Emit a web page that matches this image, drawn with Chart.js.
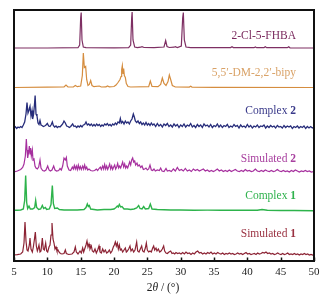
<!DOCTYPE html>
<html><head><meta charset="utf-8">
<script src="https://cdn.jsdelivr.net/npm/chart.js@4/dist/chart.umd.min.js"></script>
<style>html,body{margin:0;padding:0;background:#fff;}canvas{display:block;}</style>
</head><body>
<canvas id="c" width="332" height="302"></canvas>
<script>
// x-axis tick labels (2θ, degrees)
const tickValues = [5,10,15,20,25,30,35,40,45,50];
// series names (text, bold suffix)
const seriesNames = [["2-Cl-5-FHBA",""],["5,5\u2032-DM-2,2\u2032-bipy",""],["Complex ","2"],["Simulated ","2"],["Complex ","1"],["Simulated ","1"]];
// vertical stacking offsets for each pattern
const offsets = [213, 173.5, 133, 89, 50.5, 6];

// [2θ, relative intensity] pairs
const fhba = [[5,0],[10,0],[14.6,0.3],[14.85,3],[15.0,30],[15.08,35.5],[15.2,8],[15.4,1],[15.8,0.3],[20,0.2],[22.2,0.3],[22.5,3],[22.65,30],[22.72,36],[22.85,8],[23.1,1],[23.5,0.3],[24.0,0.8],[24.2,1.3],[24.5,0.5],[26,0.4],[27.5,1],[27.75,7.5],[27.95,1.5],[28.3,0.5],[29.0,0.8],[29.2,1.3],[29.5,0.5],[30.1,2],[30.3,30],[30.4,35.5],[30.55,8],[30.8,1],[31.5,0.3],[35,0.3],[37.5,0.4],[37.7,1.3],[37.9,0.4],[41,0.3],[41.2,1],[41.4,0.3],[42.5,0.4],[42.7,1.3],[42.9,0.3],[46.0,0.3],[46.2,1.2],[46.4,0.2],[50,0]];

const bipy = [[5,0],[10,0.3],[12.5,0.5],[12.8,2.5],[13.1,0.5],[13.9,0.5],[14.2,2],[14.5,0.8],[15.0,1.5],[15.25,12],[15.4,34.5],[15.55,20],[15.75,21],[15.9,8],[16.1,2],[16.3,3],[16.5,7],[16.7,2],[17.0,0.8],[17.8,1.5],[18.1,0.5],[18.8,0.6],[19.0,1.5],[19.3,0.6],[20.0,1],[20.3,2.5],[20.6,5],[20.9,8],[21.05,11],[21.15,18],[21.25,22],[21.35,14],[21.45,19],[21.55,12],[21.7,10],[21.85,4],[22.1,1],[22.5,0.5],[25.2,0.8],[25.45,6.5],[25.7,1],[26.6,0.8],[27.0,3],[27.25,9.5],[27.5,4],[27.8,2],[28.1,6],[28.3,12.5],[28.5,8],[28.75,2],[29.2,0.5],[31.3,0.4],[31.5,1.2],[31.7,0.4],[35,0.2],[50,0]];

const complex2 = [[5.0,0],[5.2,1.2],[5.4,-0.5],[5.6,1],[5.8,0.2],[6.0,1.5],[6.2,0.5],[6.4,3],[6.6,6],[6.8,14],[6.95,25.5],[7.1,15],[7.25,18],[7.4,21.5],[7.55,12],[7.7,17.5],[7.8,9],[7.95,14],[8.1,26],[8.17,32.5],[8.3,14],[8.45,12],[8.6,5],[8.75,3.5],[8.9,7.5],[9.05,3],[9.2,2.5],[9.4,1.5],[9.6,2],[9.8,3],[10.0,4.5],[10.2,2],[10.4,1.5],[10.6,3.5],[10.75,6],[10.9,2.5],[11.1,1],[11.3,2],[11.5,0.5],[11.7,1.5],[11.9,1],[12.1,2.5],[12.3,4],[12.5,7],[12.7,5],[12.9,2],[13.1,1.5],[13.3,0.5],[13.5,1.5],[13.8,4],[14.0,1.5],[14.2,2],[14.4,0.5],[14.6,2],[14.8,1],[15.0,2.5],[15.2,1],[15.4,3],[15.6,3.5],[15.8,6],[16.0,3],[16.2,4],[16.4,2.5],[16.6,4],[16.8,2],[17.0,3.5],[17.2,2],[17.4,4],[17.6,2.5],[17.8,3.5],[18.0,1.5],[18.2,3],[18.4,2],[18.6,4],[18.8,3],[19.0,4.5],[19.2,2.5],[19.4,3.5],[19.6,2],[19.8,4],[20.0,3],[20.2,5],[20.4,3.5],[20.6,6],[20.8,5],[20.95,9.5],[21.1,5],[21.3,6.5],[21.5,4],[21.7,7],[21.9,5],[22.1,6],[22.3,4],[22.5,7],[22.7,9],[22.9,14],[23.05,11],[23.2,7],[23.4,5.5],[23.6,7],[23.8,4.5],[24.0,6],[24.2,3.5],[24.4,5],[24.6,3],[24.8,5.5],[25.0,3],[25.2,4.5],[25.4,2.5],[25.6,5],[25.8,3],[26.0,4],[26.25,1.5],[26.5,4.5],[26.75,2],[27.0,3.5],[27.25,1],[27.5,4],[27.75,2.5],[28.0,4.5],[28.25,1.5],[28.5,3],[28.75,1],[29.0,4],[29.25,2],[29.5,3.5],[29.75,0.5],[30.0,3],[30.25,1.5],[30.5,4],[30.75,1],[31.0,3],[31.25,2],[31.5,4.5],[31.75,1],[32.0,2.5],[32.25,0.5],[32.5,3.5],[32.75,1.5],[33.0,3],[33.25,0.5],[33.5,4],[33.75,2],[34.0,3],[34.25,1],[34.5,3.5],[34.75,0.5],[35.0,2.5],[35.25,1.5],[35.5,4],[35.75,1],[36.0,3],[36.25,0.5],[36.5,2.5],[36.75,1.5],[37.0,3.5],[37.25,0.5],[37.5,2],[37.75,1],[38.0,3.5],[38.25,1.5],[38.5,2.5],[38.75,0],[39.0,3],[39.25,1],[39.5,2],[39.75,0.5],[40.0,3.5],[40.25,1],[40.5,2.5],[40.75,0],[41.0,2],[41.25,1],[41.5,3],[41.75,0.5],[42.0,2],[42.25,1.5],[42.5,3],[42.75,0],[43.0,2],[43.25,0.5],[43.5,2.5],[43.75,1],[44.0,2],[44.25,0],[44.5,2.5],[44.75,1],[45.0,1.5],[45.25,0],[45.5,2.5],[45.75,0.5],[46.0,2],[46.25,1],[46.5,2],[46.75,-0.5],[47.0,1.5],[47.25,0.5],[47.5,2],[47.75,0],[48.0,1.5],[48.25,0.5],[48.5,2],[48.75,-0.5],[49.0,1.5],[49.25,0],[49.5,1.5],[49.75,0],[50.0,1]];

const sim2 = [[5.0,0],[5.5,1],[6.0,2.5],[6.3,4.5],[6.5,8],[6.7,16],[6.85,33],[6.95,22],[7.05,14],[7.2,20],[7.3,26],[7.4,18],[7.5,24],[7.6,16],[7.75,22],[7.85,12],[8.0,13],[8.15,6],[8.3,4],[8.5,3],[8.7,5],[8.9,12],[9.05,4],[9.3,1.5],[9.55,1],[9.8,2],[10.05,6],[10.25,2],[10.45,1],[10.7,2],[10.95,6],[11.15,2],[11.4,1],[11.7,1.5],[11.9,3.5],[12.1,2],[12.3,6],[12.5,14],[12.7,12],[12.85,14.5],[13.0,6],[13.25,2],[13.5,1.5],[13.75,5],[13.9,3],[14.05,6.5],[14.2,3],[14.35,6],[14.5,2.5],[14.65,7],[14.8,3],[14.95,5.5],[15.1,2.5],[15.3,6],[15.45,3],[15.6,7],[15.75,3],[15.9,5],[16.05,2],[16.25,3],[16.5,1.5],[16.8,1],[17.1,1.5],[17.35,3],[17.55,1.5],[17.75,3.5],[17.95,5],[18.1,2.5],[18.3,6],[18.45,3],[18.6,7.5],[18.75,3],[18.9,6],[19.05,2.5],[19.2,5],[19.35,8],[19.5,3],[19.65,6],[19.8,2.5],[19.95,5],[20.1,7],[20.25,3],[20.4,5],[20.55,8.5],[20.7,4],[20.85,6],[21.0,4],[21.15,7],[21.3,10],[21.45,5],[21.6,8],[21.75,4],[21.9,6],[22.05,4],[22.2,7],[22.35,10],[22.5,7],[22.65,12],[22.8,14],[22.95,10],[23.1,11],[23.25,7],[23.45,9],[23.6,6],[23.8,7],[24.0,4.5],[24.2,6],[24.4,2.5],[24.6,3],[24.8,4],[25.0,2],[25.2,3],[25.4,7],[25.6,2],[25.8,1.5],[26.0,3],[26.2,1],[26.5,2],[26.8,1.5],[27.0,4],[27.2,1],[27.5,0.5],[27.8,3.5],[28.0,1],[28.3,1.5],[28.6,0.5],[28.9,3],[29.2,1],[29.5,4.5],[29.8,1.5],[30.1,2.5],[30.4,1],[30.7,3.5],[31.0,1],[31.3,2],[31.6,0.5],[31.9,3],[32.2,1.5],[32.5,2.5],[32.8,1],[33.1,2],[33.4,3],[33.7,1],[34.0,2],[34.3,0.5],[34.6,1.5],[34.9,0.5],[35.2,1.5],[35.5,3],[35.8,1],[36.1,2],[36.4,0.5],[36.7,1.5],[37.0,0.5],[37.3,2],[37.6,0.5],[37.9,1.5],[38.2,2.5],[38.5,1],[38.8,0.5],[39.1,1.5],[39.4,0.5],[39.7,2.5],[40.0,1],[40.3,1.5],[40.6,0.5],[40.9,1],[41.2,3],[41.5,1],[41.8,0.5],[42.1,1.5],[42.4,0.5],[42.7,2],[43.0,1],[43.3,0.5],[43.6,1.5],[43.9,0.5],[44.2,1],[44.5,2.5],[44.8,1],[45.1,0.5],[45.4,1.5],[45.7,0.5],[46.0,1],[46.3,0],[46.6,1.5],[46.9,0.5],[47.2,2],[47.5,1],[47.8,0],[48.1,1],[48.4,0.5],[48.7,1.5],[49.0,0.5],[49.3,1],[49.6,0],[50.0,0.5]];

const complex1 = [[5,0.3],[5.5,0.3],[6.0,0.5],[6.4,1.5],[6.6,10],[6.75,35],[6.9,8],[7.05,2],[7.25,4.5],[7.45,1.5],[7.8,1.5],[8.1,3],[8.25,10],[8.4,3],[8.7,1],[9.0,1.5],[9.25,5],[9.45,2],[9.7,3],[9.9,1],[10.3,1.5],[10.55,6],[10.75,25],[10.9,7],[11.1,2],[11.5,2.5],[11.8,1],[12.5,0.5],[13.5,0.5],[14.5,0.5],[15.5,1],[15.8,3],[16.0,6.5],[16.15,4],[16.3,5],[16.5,1.5],[17,1],[17.5,0.5],[18.5,1],[19.5,1],[20.0,1.5],[20.3,3],[20.5,4.5],[20.65,3.5],[20.8,6],[21.0,3.5],[21.2,4],[21.5,1.5],[22.0,1.5],[22.5,1],[23.0,1.5],[23.4,2.5],[23.7,5],[23.9,2],[24.2,1.5],[24.45,4],[24.7,1.5],[25.2,2],[25.45,6.5],[25.7,1.5],[26.5,1],[27.5,0.8],[28.5,0.5],[30,0.5],[32,0.3],[34,0.4],[36,0.3],[38,0.2],[40,0.2],[41.5,0.3],[42.2,1],[43,0.2],[45,0],[47,0],[50,-0.3]];

const sim1 = [[5,0],[5.5,0.3],[6.0,1],[6.3,3],[6.5,12],[6.65,33],[6.8,14],[6.95,5],[7.1,4],[7.3,10],[7.4,17],[7.55,6],[7.75,3],[7.9,8],[8.05,15],[8.2,23],[8.35,9],[8.5,4],[8.6,6],[8.75,10],[8.9,3],[9.05,4],[9.25,17],[9.4,6],[9.55,5],[9.75,12],[9.9,4],[10.05,3],[10.25,8],[10.4,10],[10.55,20],[10.7,32],[10.85,16],[11.0,12],[11.15,6],[11.3,8],[11.45,4],[11.6,5],[11.75,3],[11.95,1.5],[12.2,1],[12.5,1.5],[12.7,5],[12.85,1.5],[13.2,0.5],[13.7,1],[14.0,3],[14.2,8],[14.35,3],[14.6,1],[14.9,4],[15.1,2],[15.3,7],[15.45,3],[15.6,6],[15.8,10],[15.95,14],[16.1,8],[16.25,11],[16.4,6],[16.6,9],[16.75,4],[16.95,3],[17.15,6],[17.35,2],[17.55,5],[17.75,9],[17.9,3],[18.1,2],[18.3,6],[18.5,3],[18.7,5],[18.9,2],[19.1,3],[19.3,5],[19.5,2],[19.7,4],[19.9,8],[20.05,10],[20.2,13],[20.35,9],[20.5,12],[20.65,6],[20.8,10],[20.95,5],[21.1,6],[21.3,3],[21.5,5],[21.7,7],[21.85,3],[22.0,4],[22.2,6],[22.4,9],[22.55,4],[22.75,6],[22.95,3],[23.15,5],[23.4,13],[23.55,4],[23.75,3],[23.95,6],[24.15,9],[24.3,4],[24.5,3],[24.7,7],[24.85,12],[25.0,5],[25.2,3],[25.4,4],[25.6,3],[25.8,7],[25.95,9],[26.1,5],[26.3,7],[26.45,4],[26.65,6],[26.85,3],[27.05,4],[27.25,6],[27.45,9],[27.6,4],[27.8,2],[28.0,1.5],[28.25,3],[28.5,4],[28.7,1.5],[28.9,2],[29.1,1],[29.3,2.5],[29.55,1.5],[29.8,2],[30.05,1],[30.3,2.5],[30.55,1],[30.8,3],[31.05,1.5],[31.3,2],[31.55,0.5],[31.8,2],[32.05,1],[32.3,3],[32.55,4],[32.8,2],[33.05,2.5],[33.3,1],[33.55,2],[33.8,1],[34.05,2.5],[34.3,1.5],[34.55,3],[34.8,1],[35.05,2],[35.3,1],[35.55,2.5],[35.8,1.5],[36.05,1],[36.3,2],[36.55,0.5],[36.8,1.5],[37.05,1],[37.3,2],[37.55,1],[37.8,1.5],[38.05,0.5],[38.3,1],[38.55,2],[38.8,1],[39.05,1.5],[39.3,0.5],[39.55,1.5],[39.8,2.5],[40.05,1],[40.3,1.5],[40.55,0.5],[40.8,1],[41.05,1.5],[41.3,0.5],[41.55,2],[41.8,1],[42.05,1.5],[42.3,2.5],[42.55,2],[42.8,3],[43.05,1.5],[43.3,2],[43.55,1],[43.8,1.5],[44.05,0.5],[44.3,1],[44.55,2],[44.8,1],[45.05,0.5],[45.3,1.5],[45.55,0.5],[45.8,1],[46.05,2],[46.3,0.5],[46.55,1],[46.8,0.5],[47.05,1.5],[47.3,0.5],[47.55,1],[47.8,0],[48.05,1],[48.3,0.5],[48.55,1.5],[48.8,0.5],[49.05,1],[49.3,0],[49.55,0.5],[49.8,0],[50,0.5]];

const patterns = [fhba, bipy, complex2, sim2, complex1, sim1];
const lineColors = ['#7e2f63','#d58d3f','#262c7a','#a6309e','#2db34b','#8c2334'];
const lineWidths = [1.2, 1.2, 1.3, 1.2, 1.4, 1.2];
const labelColors = ['#7a2a5e','#d9a267','#3a3a8a','#a8409f','#2fb24d','#9a3141'];
const labelY = [225.3, 188.3, 150.3, 102, 65.3, 26.7];

const SERIF = '"Liberation Serif","Times New Roman",serif';

const datasets = patterns.map((p, i) => ({
  data: p.map(([x, y]) => ({x: x, y: y + offsets[i]})),
  borderColor: lineColors[i],
  borderWidth: lineWidths[i],
  pointRadius: 0,
  tension: 0,
  fill: false
}));

const decor = {
  id: 'decor',
  afterDatasetsDraw(chart) {
    const ctx = chart.ctx, a = chart.chartArea;
    const xs = chart.scales.x, ys = chart.scales.y;
    ctx.save();
    // frame
    ctx.strokeStyle = '#111';
    ctx.lineWidth = 2;
    ctx.strokeRect(a.left, a.top, a.right - a.left, a.bottom - a.top);
    // inward ticks
    ctx.lineWidth = 1.5;
    tickValues.forEach(v => {
      const px = Math.round(xs.getPixelForValue(v)) + 0.5;
      ctx.beginPath(); ctx.moveTo(px, a.bottom); ctx.lineTo(px, a.bottom - 3.5); ctx.stroke();
    });
    // series labels
    ctx.textBaseline = 'middle';
    seriesNames.forEach(([t, b], i) => {
      const y = ys.getPixelForValue(labelY[i]);
      const xr = a.right - 18;
      ctx.font = 'bold 11.5px ' + SERIF;
      const bw = b ? ctx.measureText(b).width : 0;
      ctx.font = '11.5px ' + SERIF;
      const tw = ctx.measureText(t).width;
      ctx.fillStyle = labelColors[i];
      ctx.textAlign = 'left';
      ctx.fillText(t, xr - bw - tw, y);
      if (b) { ctx.font = 'bold 11.5px ' + SERIF; ctx.fillText(b, xr - bw, y); }
    });
    // axis title: 2θ / (°)
    const parts = [['2', ''], ['\u03b8', 'italic '], [' / (\u00b0)', '']];
    let total = 0;
    parts.forEach(([s, st]) => { ctx.font = st + '11.5px ' + SERIF; total += ctx.measureText(s).width; });
    let x = (a.left + a.right) / 2 - total / 2 - 1;
    const ty = a.bottom + 27;
    ctx.fillStyle = '#222';
    parts.forEach(([s, st]) => { ctx.font = st + '11.5px ' + SERIF; ctx.fillText(s, x, ty); x += ctx.measureText(s).width; });
    ctx.restore();
  }
};

new Chart(document.getElementById('c'), {
  type: 'line',
  data: { datasets },
  options: {
    responsive: false,
    animation: false,
    events: [],
    layout: { padding: { left: 14, right: 18, top: 10, bottom: 0 } },
    plugins: { legend: { display: false }, tooltip: { enabled: false } },
    scales: {
      x: {
        type: 'linear', min: 5, max: 50,
        afterBuildTicks(s) { s.ticks = tickValues.map(v => ({ value: v })); },
        afterFit(s) { s.height = 41; },
        ticks: { font: { family: SERIF, size: 11 }, color: '#222', padding: 5, maxRotation: 0, autoSkip: false },
        grid: { display: false, drawTicks: false },
        border: { display: false }
      },
      y: { display: false, min: 0, max: 251 }
    }
  },
  plugins: [decor]
});
</script>
</body></html>
